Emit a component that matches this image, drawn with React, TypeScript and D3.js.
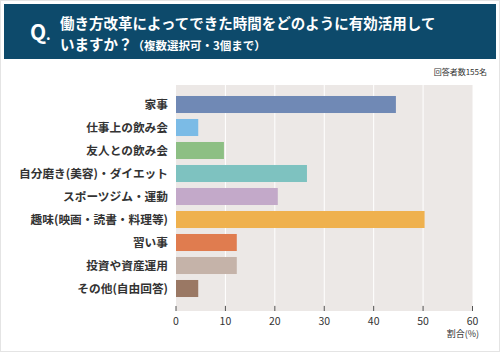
import React from "react";
import * as d3 from "d3";

const categories = [
  "家事",
  "仕事上の飲み会",
  "友人との飲み会",
  "自分磨き(美容)・ダイエット",
  "スポーツジム・運動",
  "趣味(映画・読書・料理等)",
  "習い事",
  "投資や資産運用",
  "その他(自由回答)",
];
const values = [44.5, 4.5, 9.7, 26.5, 20.6, 50.3, 12.3, 12.3, 4.5];
const colors = [
  "#7089b5",
  "#7bbbe6",
  "#8dbf84",
  "#7ec2c0",
  "#c3a9c9",
  "#efb14e",
  "#e07c4f",
  "#c5b3a9",
  "#9a7864",
];
const xTicks = [0, 10, 20, 30, 40, 50, 60];

const W = 500;
const H = 352;
const FONT = "'Noto Sans CJK JP', 'Noto Sans', sans-serif";

export default function App() {
  const x = d3.scaleLinear().domain([0, 60]).range([176, 472.5]);
  const y = d3
    .scaleBand<string>()
    .domain(categories)
    .range([93, 300])
    .paddingInner(0.26)
    .paddingOuter(0.13);
  const plotTop = 85;
  const plotBottom = 311;

  return (
    <svg
      width={W}
      height={H}
      viewBox={`0 0 ${W} ${H}`}
      style={{ position: "absolute", left: 0, top: 0, fontFamily: FONT }}
    >
      <rect x={0.5} y={0.5} width={W - 1} height={H - 1} fill="#fff" stroke="#e4e4e4" />
      {/* header */}
      <rect x={4} y={4} width={492} height={55} fill="#0d4a6b" />
      <text x={30} y={40} fill="#fff" fontSize={21} fontWeight={700}>
        Q
      </text>
      <text x={46} y={40} fill="#fff" fontSize={14} fontWeight={700}>
        .
      </text>
      <text x={60} y={29} fill="#fff" fontSize={14.5} fontWeight={700}>
        働き方改革によってできた時間をどのように有効活用して
      </text>
      <text x={60} y={50} fill="#fff" fontSize={14.5} fontWeight={700}>
        いますか？
        <tspan fontSize={11.5}>（複数選択可・3個まで）</tspan>
      </text>
      <text x={487} y={75} textAnchor="end" fill="#333" fontSize={8}>
        回答者数155名
      </text>

      {/* plot bg */}
      <rect
        x={x(0)}
        y={plotTop}
        width={x(60) - x(0)}
        height={plotBottom - plotTop}
        fill="#ece8e6"
      />
      {xTicks.slice(1, -1).map((t) => (
        <line
          key={"g" + t}
          x1={x(t)}
          x2={x(t)}
          y1={plotTop}
          y2={plotBottom - 6}
          stroke="#fff"
          strokeWidth={1}
        />
      ))}
      {categories.map((c, i) => (
        <g key={c}>
          <rect
            x={x(0)}
            y={y(c)}
            width={x(values[i]) - x(0)}
            height={y.bandwidth()}
            fill={colors[i]}
          />
          <text
            x={168}
            y={(y(c) as number) + y.bandwidth() / 2}
            dy="0.36em"
            textAnchor="end"
            fill="#333"
            fontSize={11.7}
            fontWeight={700}
          >
            {c}
          </text>
        </g>
      ))}
      {xTicks.map((t) => (
        <g key={"t" + t}>
          <line
            x1={x(t)}
            x2={x(t)}
            y1={plotBottom - 5}
            y2={plotBottom}
            stroke="#555"
            strokeWidth={1}
          />
          <text x={x(t)} y={325} textAnchor="middle" fill="#333" fontSize={10.5}>
            {t}
          </text>
        </g>
      ))}
      <text x={479} y={337} textAnchor="end" fill="#333" fontSize={9}>
        割合(%)
      </text>
    </svg>
  );
}
